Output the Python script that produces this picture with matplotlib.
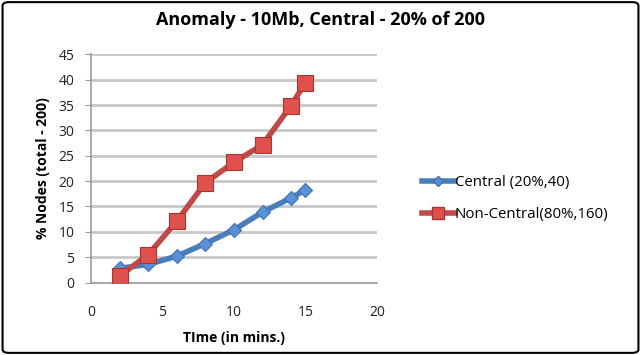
import matplotlib.pyplot as plt
from matplotlib.lines import Line2D
from matplotlib.patches import FancyBboxPatch

plt.rcParams['font.family'] = ['Open Sans', 'DejaVu Sans']

minutes = [2, 4, 6, 8, 10, 12, 14, 15]
central = [2.8, 3.6, 5.2, 7.7, 10.4, 13.9, 16.7, 18.3]
non_central = [1.3, 5.5, 12.1, 19.7, 23.7, 27.2, 34.9, 39.4]

labels = ['Central (20%,40)', 'Non-Central(80%,160)']
title = 'Anomaly - 10Mb, Central - 20% of 200'

blue = '#4a7ebb'
red = '#be4b48'

fig = plt.figure(figsize=(6.41, 3.55), dpi=100)
ax = fig.add_axes([0.142, 0.204, 0.446, 0.643])

# outer chart border
fig.patches.append(FancyBboxPatch((0.004, 0.006), 0.992, 0.988, boxstyle='round,pad=0,rounding_size=0.01',
                                  transform=fig.transFigure, fill=False, edgecolor='black', lw=1.5))

ax.plot(minutes, central, color=blue, lw=4, marker='D', ms=7,
        markerfacecolor='#5b8fd6', markeredgecolor='#3f73b5', markeredgewidth=0.8, zorder=3)
ax.plot(minutes, non_central, color=red, lw=4, marker='s', ms=12,
        markerfacecolor='#e0504c', markeredgecolor='#a83532', markeredgewidth=0.8, zorder=4)

ax.set_xlim(0, 20)
ax.set_ylim(0, 45)
ax.set_xticks(range(0, 21, 5))
ax.set_yticks(range(0, 46, 5))
ax.yaxis.grid(True, color='#c8c8c8', lw=2)
ax.set_axisbelow(True)
for s in ['top', 'right']:
    ax.spines[s].set_visible(False)
for s in ['left', 'bottom']:
    ax.spines[s].set_color('#9a9a9a')
    ax.spines[s].set_linewidth(1.2)
ax.tick_params(axis='x', length=0, pad=16, labelsize=10, colors='#222222')
ax.tick_params(axis='y', length=4, color='#9a9a9a', pad=8, labelsize=10, labelcolor='#222222')

ax.set_xlabel('TIme (in mins.)', fontsize=10, fontweight='bold', labelpad=8)
ax.set_ylabel('% Nodes (total - 200)', fontsize=10, fontweight='bold', labelpad=6)
fig.text(0.5, 0.945, title, ha='center', va='center', fontsize=13, fontweight='bold')

handles = [Line2D([], [], color=blue, lw=4, marker='D', ms=5, markerfacecolor='#5b8fd6', markeredgecolor='#3f73b5'),
           Line2D([], [], color=red, lw=4, marker='s', ms=8, markerfacecolor='#e0504c', markeredgecolor='#a83532')]
fig.legend(handles, labels, loc='center left', bbox_to_anchor=(0.637, 0.44), frameon=False,
           fontsize=10.8, handlelength=2.2, handletextpad=0.0, labelspacing=1.15)

fig.savefig('out.png', dpi=100)
